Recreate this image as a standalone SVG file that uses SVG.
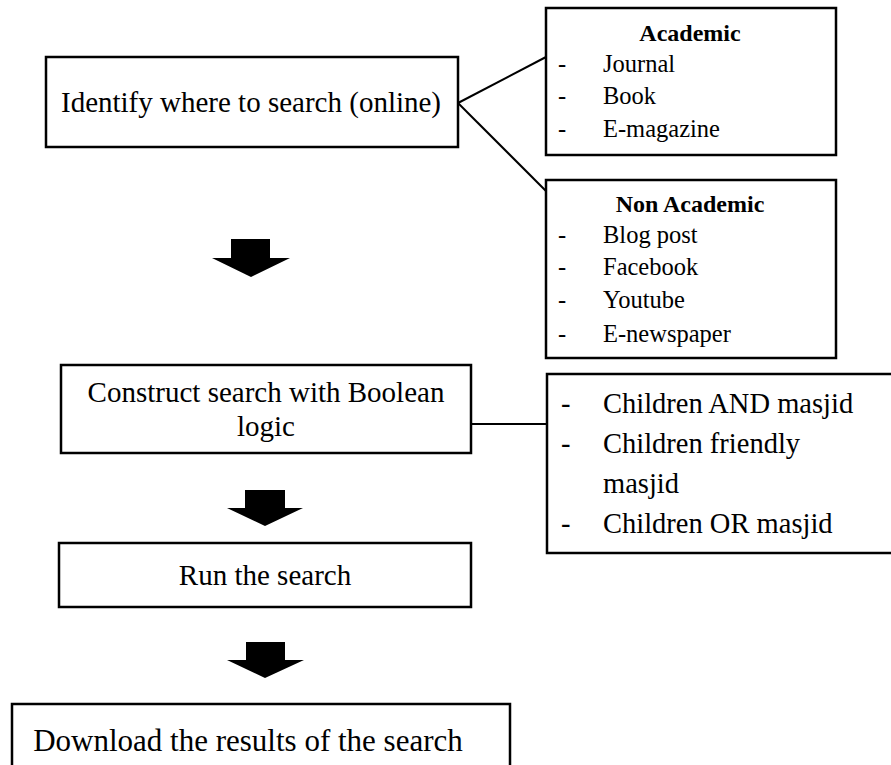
<svg xmlns="http://www.w3.org/2000/svg" width="891" height="765" viewBox="0 0 891 765">
<style>
.box{fill:#fff;stroke:#000;stroke-width:2.5}
.t{font-family:"Liberation Serif","Times New Roman",serif;fill:#000}
.main{font-size:29px;text-anchor:middle}
.small{font-size:24.5px}
.head{font-size:24px;font-weight:bold;text-anchor:middle}
.mid{font-size:28.5px}
.conn{stroke:#000;stroke-width:2;fill:none}
.arrow{fill:#000}
</style>
<rect width="891" height="765" fill="#fff"/>
<g id="connectors">
<line class="conn" x1="458" y1="103" x2="546" y2="57"/>
<line class="conn" x1="458" y1="103" x2="546" y2="191"/>
<line class="conn" x1="471" y1="424" x2="547" y2="424"/>
<polygon class="arrow" points="231,239 270,239 270,258 290,258 251,277 212,258 231,258"/>
<polygon class="arrow" points="245,490 285,490 285,508 303,508 265,526 227,508 245,508"/>
<polygon class="arrow" points="246,642 285,642 285,660 304,660 265,678 227,660 246,660"/>
</g>
<g id="identify">
<rect class="box" x="46" y="57" width="412" height="90"/>
<text class="t main" x="251" y="112">Identify where to search (online)</text>
</g>
<g id="academic">
<rect class="box" x="546" y="8" width="290" height="147"/>
<text class="t head" x="690" y="41">Academic</text>
<text class="t small" x="558" y="72">-</text><text class="t small" x="603" y="72">Journal</text>
<text class="t small" x="558" y="104">-</text><text class="t small" x="603" y="104">Book</text>
<text class="t small" x="558" y="137">-</text><text class="t small" x="603" y="137">E-magazine</text>
</g>
<g id="nonacademic">
<rect class="box" x="546" y="180" width="290" height="178"/>
<text class="t head" x="690" y="212">Non Academic</text>
<text class="t small" x="558" y="243">-</text><text class="t small" x="603" y="243">Blog post</text>
<text class="t small" x="558" y="275">-</text><text class="t small" x="603" y="275">Facebook</text>
<text class="t small" x="558" y="308">-</text><text class="t small" x="603" y="308">Youtube</text>
<text class="t small" x="558" y="342">-</text><text class="t small" x="603" y="342">E-newspaper</text>
</g>
<g id="construct">
<rect class="box" x="61" y="365" width="410" height="88"/>
<text class="t main" x="266" y="402">Construct search with Boolean</text>
<text class="t main" x="266" y="436">logic</text>
</g>
<g id="children">
<rect class="box" x="547" y="374" width="350" height="179"/>
<text class="t mid" x="561" y="413">-</text><text class="t mid" x="603" y="413">Children AND masjid</text>
<text class="t mid" x="561" y="453">-</text><text class="t mid" x="603" y="453">Children friendly</text>
<text class="t mid" x="603" y="493">masjid</text>
<text class="t mid" x="561" y="533">-</text><text class="t mid" x="603" y="533">Children OR masjid</text>
</g>
<g id="run">
<rect class="box" x="59" y="543" width="412" height="64"/>
<text class="t main" x="265" y="585">Run the search</text>
</g>
<g id="download">
<rect class="box" x="12" y="704" width="498" height="70"/>
<text class="t main" x="248" y="751" style="font-size:31px">Download the results of the search</text>
</g>
</svg>
